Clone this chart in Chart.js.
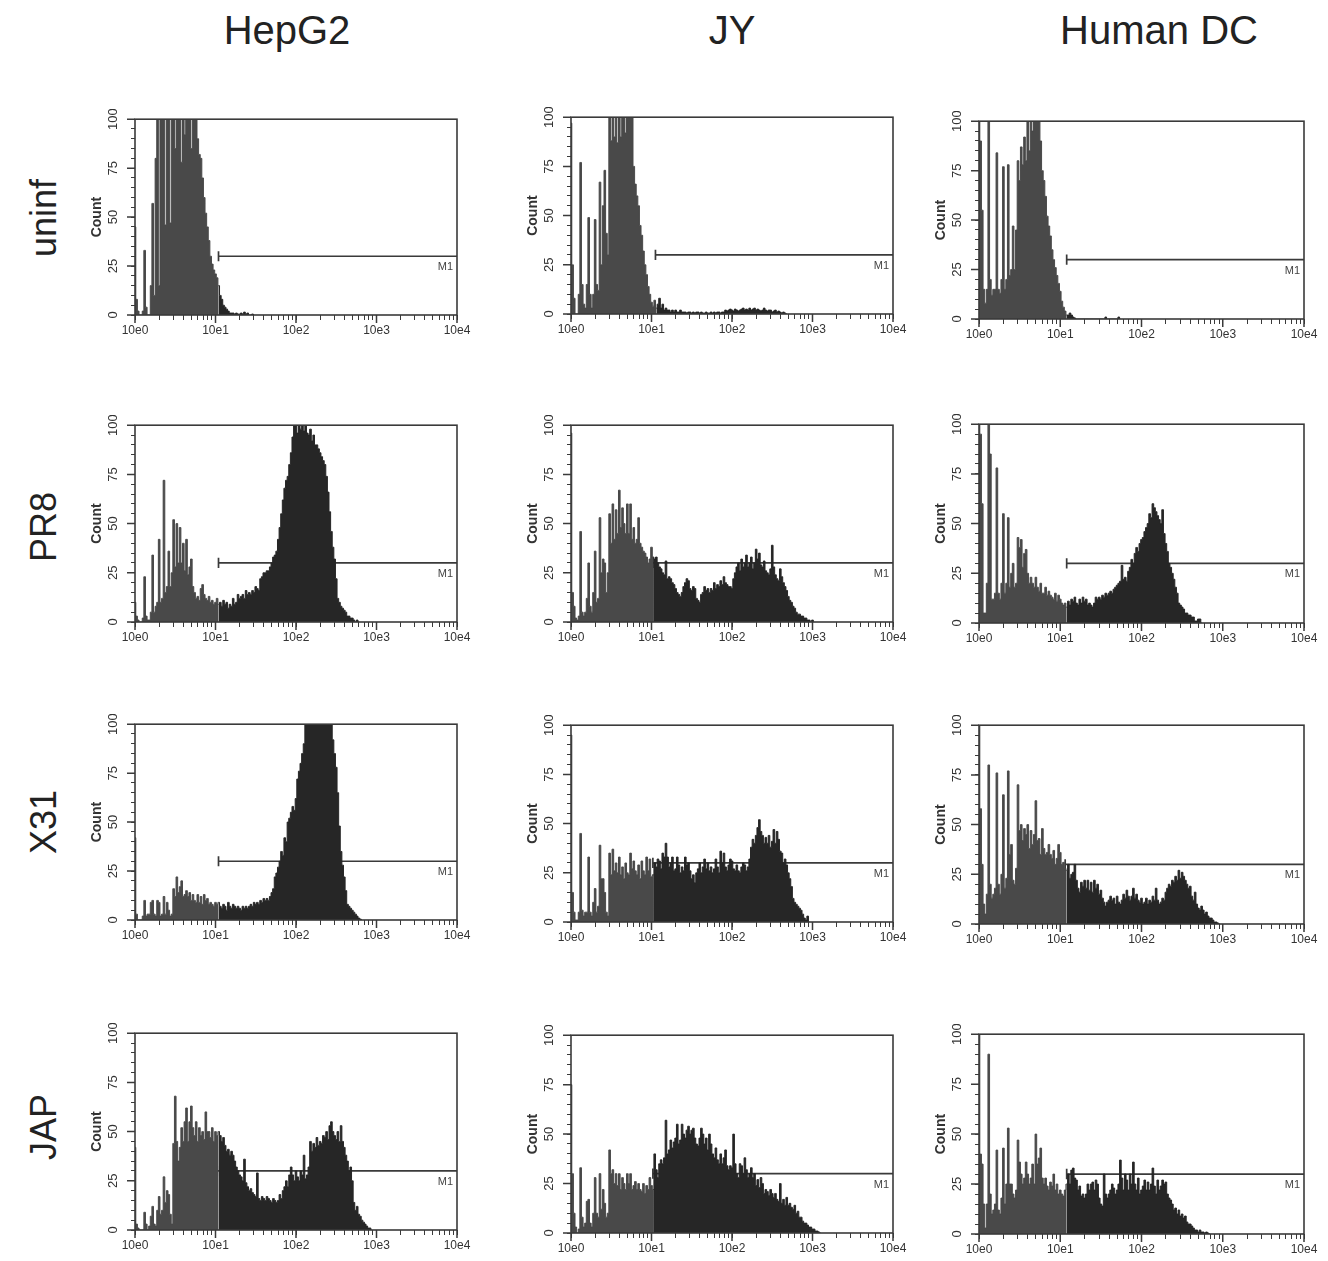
<!DOCTYPE html>
<html>
<head>
<meta charset="utf-8">
<script src="https://cdn.jsdelivr.net/npm/chart.js@4"></script>
<style>
  body { margin: 0; background: #fff; font-family: "Liberation Sans", Arial, sans-serif; }
  #page { position: relative; width: 1328px; height: 1261px; overflow: hidden; }
  .colTitle { position: absolute; top: 8px; font-size: 40px; line-height: 44px; color: #222; white-space: nowrap; transform: translateX(-50%); }
  .rowTitle { position: absolute; font-size: 36px; line-height: 36px; color: #222; white-space: nowrap; transform: translate(-50%, -50%) rotate(-90deg); }
  canvas { position: absolute; }
</style>
</head>
<body>
<div id="page"></div>
<script>
// column / row names
const cellLines = ['HepG2', 'JY', 'Human DC'];
const infections = ['uninf', 'PR8', 'X31', 'JAP'];

// channels: 50 bins per decade, bin i sits at 10^(i/50)
const binsPerDecade = 50;
const xTickValues = [1, 10, 100, 1000, 10000];
const xTickLabels = ['10e0', '10e1', '10e2', '10e3', '10e4'];
const yTickValues = [0, 25, 50, 75, 100];
const markerName = 'M1';
const markerLevel = 30;
// M1 gate start per panel (row x col)
const gateStart = [
  [10.9, 11.2, 12.0],
  [10.9, 10.4, 12.0],
  [10.9, 10.4, 11.5],
  [10.5, 10.4, 12.0]
];

// counts per bin
const hepg2Uninf = [45, 8, 2, 0, 0, 2, 33, 4, 0, 0,
  15, 57, 10, 80, 100, 15, 100, 100, 100, 46,
  100, 100, 47, 100, 100, 85, 100, 100, 100, 78,
  100, 92, 100, 100, 100, 85, 100, 100, 100, 90,
  82, 80, 70, 60, 52, 45, 38, 30, 26, 23,
  21, 19, 15, 10, 8, 5, 4, 3, 2, 1,
  1, 1, 0.5, 1, 0.5, 0.5, 1, 0.5, 1.5, 0.5,
  1, 0, 0, 0.5, 0];
const jyUninf = [97, 25, 8, 0, 0, 10, 77, 15, 5, 3,
  15, 49, 10, 3, 10, 48, 15, 12, 67, 25,
  55, 73, 41, 30, 100, 88, 100, 90, 100, 87,
  100, 90, 100, 100, 92, 100, 100, 100, 100, 75,
  66, 60, 55, 45, 40, 32, 25, 20, 14, 10,
  6, 4, 7, 3, 5, 8, 3, 5, 2, 3,
  2, 2, 1, 2, 1, 2, 1, 1, 2, 1,
  1, 1, 0.5, 1, 1, 0.5, 1, 0.5, 1, 1,
  0.5, 1, 0.5, 0.5, 1, 0.5, 0.5, 1, 0.5, 1,
  0.5, 1, 1, 0.5, 1, 1, 2, 1.5, 2, 2.5,
  2, 1.5, 2.5, 2, 1.5, 2, 2.5, 3, 2, 2.5,
  2, 3, 2, 2.5, 3, 2, 2.5, 2, 1.5, 2,
  3, 2, 1.5, 2, 2, 1, 1.5, 2, 1, 1.5,
  1, 0.5, 1, 0.5, 0];
const dcUninf = [100, 90, 55, 15, 8, 15, 100, 20, 12, 15,
  15, 84, 15, 13, 20, 77, 15, 20, 78, 22,
  25, 47, 25, 45, 80, 70, 87, 78, 92, 80,
  100, 85, 100, 95, 100, 100, 100, 100, 90, 75,
  70, 62, 52, 47, 42, 35, 30, 26, 22, 18,
  14, 9, 6, 4, 2, 2, 3, 2, 1, 0.5,
  0, 0, 0, 0, 0, 0, 0, 0, 0, 0,
  0, 0, 0, 0, 0, 0, 0, 0, 1, 0,
  0, 0, 0, 0, 0, 0, 1, 0];

const hepg2PR8 = [10, 3, 1, 0, 0, 2, 23, 3, 1, 1,
  5, 34, 5, 8, 10, 42, 10, 12, 72, 15,
  18, 36, 18, 25, 52, 28, 50, 30, 48, 30,
  40, 26, 42, 24, 28, 32, 18, 15, 12, 13,
  11, 17, 19, 14, 12, 11, 13, 10, 11, 9,
  10, 12, 9, 10, 8, 11, 9, 10, 7, 9,
  8, 12, 9, 10, 14, 12, 13, 14, 12, 16,
  14, 15, 14, 16, 15, 18, 17, 16, 22, 23,
  25, 25, 26, 26, 28, 30, 33, 34, 36, 42,
  48, 55, 62, 68, 72, 74, 80, 86, 94, 100,
  100, 96, 100, 98, 100, 97, 100, 96, 95, 98,
  92, 95, 90, 90, 88, 86, 84, 82, 80, 74,
  66, 56, 46, 38, 32, 22, 12, 10, 8, 7,
  6, 5, 3, 3, 2, 2, 1, 0, 1, 0];
const jyPR8 = [96, 15, 8, 2, 1, 3, 46, 5, 3, 5,
  12, 30, 8, 5, 15, 36, 10, 12, 53, 25,
  32, 30, 15, 25, 55, 40, 60, 42, 57, 45,
  67, 48, 58, 50, 45, 60, 45, 60, 42, 48,
  40, 42, 53, 40, 38, 36, 35, 33, 30, 32,
  38, 33, 32, 33, 30, 28, 27, 25, 24, 31,
  22, 23, 22, 20, 19, 17, 15, 14, 13, 15,
  18, 20, 22, 21, 17, 16, 18, 17, 12, 11,
  10, 14, 15, 18, 16, 17, 15, 17, 16, 20,
  17, 19, 18, 21, 19, 23, 20, 19, 18, 18,
  17, 22, 25, 28, 30, 26, 32, 28, 30, 34,
  28, 30, 33, 27, 30, 37, 32, 35, 29, 28,
  31, 26, 25, 24, 27, 39, 28, 24, 22, 21,
  27, 23, 20, 18, 16, 13, 11, 10, 8, 7,
  5, 4, 4, 3, 3, 2, 2, 1, 1, 0, 1, 0];
const dcPR8 = [100, 95, 60, 5, 5, 20, 100, 85, 12, 12,
  15, 78, 15, 12, 20, 55, 15, 20, 53, 18,
  25, 30, 18, 20, 43, 38, 42, 28, 35, 37,
  25, 20, 23, 20, 18, 23, 18, 16, 20, 15,
  15, 18, 14, 16, 14, 13, 12, 15, 11, 14,
  12, 10, 9, 10, 8, 11, 9, 12, 11, 13,
  10, 9, 12, 10, 13, 11, 12, 9, 10, 9,
  8, 10, 13, 12, 13, 12, 14, 13, 15, 14,
  15, 16, 15, 17, 18, 19, 20, 21, 29, 22,
  23, 21, 26, 28, 32, 30, 35, 38, 36, 40,
  42, 43, 46, 48, 50, 55, 53, 60, 58, 56,
  54, 52, 50, 57, 45, 40, 36, 30, 28, 25,
  22, 18, 15, 10, 9, 8, 7, 5, 5, 4,
  4, 3, 3, 1, 1, 2, 2, 0];

const hepg2X31 = [42, 3, 0, 0, 0, 2, 10, 2, 3, 3,
  9, 10, 3, 2, 10, 9, 2, 3, 12, 3,
  9, 5, 2, 3, 16, 12, 22, 14, 17, 20,
  12, 13, 15, 12, 14, 10, 13, 10, 9, 13,
  9, 12, 8, 13, 10, 11, 8, 9, 8, 7,
  9, 8, 9, 7, 6, 8, 7, 5, 9, 7,
  6, 8, 7, 6, 7, 6, 5, 7, 6, 7,
  6, 7, 8, 7, 9, 8, 9, 8, 10, 9,
  11, 10, 11, 10, 12, 14, 16, 22, 24, 27,
  30, 35, 33, 42, 40, 50, 52, 55, 58, 56,
  62, 72, 76, 80, 85, 90, 100, 100, 100, 100,
  100, 100, 100, 100, 100, 100, 100, 100, 100, 100,
  100, 100, 100, 92, 85, 78, 65, 48, 35, 28,
  22, 15, 8, 7, 6, 5, 4, 3, 2, 1, 0.5, 0];
const jyX31 = [95, 15, 5, 1, 1, 5, 45, 6, 3, 5,
  5, 33, 5, 3, 10, 17, 5, 8, 39, 22,
  22, 15, 5, 3, 35, 24, 37, 26, 30, 25,
  33, 24, 28, 22, 30, 25, 24, 35, 27, 31,
  26, 24, 29, 22, 31, 26, 24, 33, 26, 32,
  23, 24, 30, 28, 32, 31, 27, 35, 33, 40,
  33, 28, 30, 33, 26, 27, 33, 29, 25, 28,
  26, 33, 29, 30, 26, 22, 24, 20, 25, 27,
  30, 25, 28, 32, 27, 30, 26, 28, 25, 27,
  32, 28, 25, 36, 30, 35, 28, 26, 29, 32,
  31, 27, 26, 29, 26, 25, 28, 30, 29, 26,
  28, 32, 38, 42, 40, 44, 48, 52, 46, 44,
  40, 43, 40, 44, 38, 41, 47, 40, 46, 42,
  36, 35, 30, 32, 29, 25, 22, 18, 12, 10,
  9, 8, 7, 6, 4, 2, 1, 3, 0];
const dcX31 = [100, 58, 30, 10, 5, 15, 80, 20, 13, 15,
  18, 76, 20, 15, 25, 65, 18, 23, 77, 35,
  40, 22, 20, 28, 70, 47, 50, 42, 48, 45,
  50, 38, 47, 40, 45, 62, 42, 43, 35, 48,
  38, 35, 36, 40, 35, 33, 37, 30, 33, 40,
  36, 30, 31, 28, 27, 30, 23, 25, 26, 30,
  22, 18, 16, 21, 19, 22, 18, 22, 17, 21,
  16, 22, 18, 20, 15, 17, 13, 11, 9, 11,
  12, 14, 12, 13, 10, 14, 11, 10, 12, 15,
  13, 17, 14, 12, 14, 18, 13, 15, 12, 11,
  13, 10, 11, 13, 10, 12, 11, 14, 12, 18,
  12, 10, 11, 13, 12, 16, 18, 20, 19, 22,
  21, 24, 22, 27, 23, 26, 24, 22, 20, 18,
  19, 14, 12, 16, 10, 8, 7, 9, 7, 5,
  6, 4, 3, 3, 2, 1, 1, 0.5, 0];

const hepg2JAP = [42, 3, 1, 0, 0, 0, 9, 3, 0, 2,
  7, 12, 3, 2, 10, 17, 8, 10, 27, 14,
  20, 18, 8, 3, 44, 68, 45, 35, 42, 52,
  45, 55, 62, 45, 55, 63, 52, 48, 55, 45,
  52, 48, 50, 46, 60, 50, 50, 47, 52, 45,
  50, 48, 50, 48, 45, 47, 43, 40, 41, 38,
  40, 38, 35, 32, 30, 28, 27, 25, 36, 24,
  22, 20, 21, 19, 18, 17, 29, 16, 15, 17,
  16, 15, 17, 16, 15, 14, 16, 15, 14, 15,
  18, 16, 20, 22, 25, 22, 28, 32, 28, 25,
  30, 27, 25, 30, 28, 38, 26, 28, 32, 45,
  40, 44, 42, 47, 43, 45, 44, 48, 47, 50,
  46, 53, 55, 50, 48, 46, 50, 45, 53, 45,
  42, 38, 35, 30, 32, 25, 14, 10, 12, 8,
  7, 5, 4, 3, 2, 1, 1, 0];
const jyJAP = [75, 30, 10, 3, 0, 2, 33, 8, 3, 5,
  16, 17, 5, 3, 10, 28, 10, 8, 30, 12,
  22, 15, 8, 10, 42, 30, 32, 25, 30, 24,
  30, 22, 28, 25, 22, 30, 25, 30, 22, 24,
  26, 22, 25, 22, 21, 25, 20, 24, 22, 28,
  24, 22, 40, 32, 28, 35, 37, 35, 38, 57,
  40, 42, 47, 43, 46, 48, 55, 45, 47, 55,
  50, 48, 52, 54, 50, 52, 53, 48, 45, 44,
  48, 53, 50, 45, 48, 42, 50, 45, 40, 38,
  43, 37, 35, 40, 35, 38, 42, 34, 32, 34,
  33, 50, 35, 30, 28, 35, 34, 30, 38, 32,
  28, 30, 33, 28, 30, 24, 27, 23, 28, 25,
  20, 22, 21, 19, 22, 20, 18, 20, 17, 16,
  25, 15, 17, 14, 18, 14, 15, 13, 12, 14,
  10, 11, 8, 8, 6, 5, 5, 4, 3, 3,
  2, 2, 1, 1, 0.5, 0];
const dcJAP = [100, 40, 35, 15, 3, 15, 90, 20, 10, 12,
  15, 42, 12, 10, 18, 43, 15, 25, 53, 25,
  25, 20, 18, 22, 47, 36, 30, 25, 28, 36,
  30, 25, 28, 35, 25, 50, 35, 38, 43, 28,
  25, 28, 24, 22, 26, 24, 30, 22, 25, 20,
  22, 20, 19, 22, 25, 30, 25, 32, 33, 28,
  27, 22, 24, 19, 20, 18, 20, 25, 22, 25,
  26, 22, 27, 25, 18, 15, 14, 30, 20, 18,
  20, 22, 25, 23, 20, 22, 25, 37, 28, 22,
  30, 27, 22, 30, 25, 36, 25, 22, 28, 20,
  22, 24, 27, 22, 26, 22, 25, 33, 24, 20,
  27, 22, 24, 27, 25, 26, 20, 18, 17, 15,
  12, 13, 10, 12, 9, 10, 8, 9, 6, 5,
  5, 4, 3, 2, 2, 1, 2, 1, 1, 0.5, 1, 0.5, 0];

const counts = [
  [hepg2Uninf, jyUninf, dcUninf],
  [hepg2PR8, jyPR8, dcPR8],
  [hepg2X31, jyX31, dcX31],
  [hepg2JAP, jyJAP, dcJAP]
];

// layout of the plot boxes on the page
const plotLeft = [135, 571, 979];
const plotRight = [457, 893, 1304];
const plotTop = [[119, 117, 121], [425, 425, 424], [724, 725, 725], [1033, 1035, 1034]];
const plotBottom = [[315, 314, 319], [622, 622, 623], [920, 922, 924], [1230, 1233, 1234]];
const colTitleX = [287, 732, 1159];
const rowTitleY = [218, 527, 822, 1127];
const YW = 46, XH = 30, PT = 10, PR = 18;

const grayFill = '#494949';
const darkFill = '#262626';
const axisColor = '#3a3a3a';
const fontFamily = '"Liberation Sans", Arial, sans-serif';
Chart.defaults.font.family = fontFamily;

const page = document.getElementById('page');

cellLines.forEach((name, c) => {
  const d = document.createElement('div');
  d.className = 'colTitle';
  d.style.left = colTitleX[c] + 'px';
  d.textContent = name;
  page.appendChild(d);
});
infections.forEach((name, r) => {
  const d = document.createElement('div');
  d.className = 'rowTitle';
  d.style.left = '44px';
  d.style.top = rowTitleY[r] + 'px';
  d.textContent = name;
  page.appendChild(d);
});

// minor + major tick positions of the log axis
const xTicks = [];
for (let e = 0; e < 4; e++) {
  for (let s = 1; s < 10; s++) xTicks.push(s * Math.pow(10, e));
}
xTicks.push(10000);

const panelDecor = {
  id: 'panelDecor',
  afterDraw(chart) {
    const ctx = chart.ctx;
    const { left, right, top, bottom } = chart.chartArea;
    const xs = chart.scales.x, ys = chart.scales.y;
    ctx.save();
    ctx.strokeStyle = axisColor;
    ctx.lineWidth = 1.5;
    ctx.beginPath();
    xTickValues.forEach(v => {
      const px = xs.getPixelForValue(v);
      ctx.moveTo(px, bottom);
      ctx.lineTo(px, bottom + 8);
    });
    yTickValues.forEach(v => {
      const py = ys.getPixelForValue(v);
      ctx.moveTo(left - 8, py);
      ctx.lineTo(left, py);
    });
    ctx.stroke();
    ctx.lineWidth = 1.6;
    ctx.strokeRect(left, top, right - left, bottom - top);

    ctx.fillStyle = '#333';
    ctx.font = '13px ' + fontFamily;
    ctx.textAlign = 'center';
    ctx.textBaseline = 'middle';
    yTickValues.forEach(v => {
      ctx.save();
      ctx.translate(left - 22, ys.getPixelForValue(v));
      ctx.rotate(-Math.PI / 2);
      ctx.fillText(String(v), 0, 0);
      ctx.restore();
    });
    ctx.font = '11px ' + fontFamily;
    ctx.textAlign = 'right';
    ctx.fillStyle = '#444';
    ctx.fillText(markerName, right - 4, ys.getPixelForValue(markerLevel) + 11);
    ctx.restore();
  }
};

function makePanel(r, c) {
  const L = plotLeft[c], R = plotRight[c], T = plotTop[r][c], B = plotBottom[r][c];
  const canvas = document.createElement('canvas');
  const w = YW + (R - L) + PR;
  const h = PT + (B - T) + XH;
  canvas.width = w; canvas.height = h;
  canvas.style.left = (L - YW) + 'px';
  canvas.style.top = (T - PT) + 'px';
  canvas.style.width = w + 'px';
  canvas.style.height = h + 'px';
  page.appendChild(canvas);

  const pts = counts[r][c].map((v, i) => ({ x: Math.pow(10, i / binsPerDecade), y: v }));
  const gate = gateStart[r][c];
  let k = pts.findIndex(p => p.x >= gate);
  if (k < 0) k = pts.length - 1;
  const grayPts = pts.slice(0, k + 1);
  const darkPts = pts.slice(k);

  const hist = (data, color) => ({
    data, fill: 'origin', stepped: 'middle', pointRadius: 0,
    backgroundColor: color, borderColor: color, borderWidth: 1
  });

  new Chart(canvas, {
    type: 'line',
    data: {
      datasets: [
        hist(grayPts, grayFill),
        hist(darkPts, darkFill),
        { data: [{ x: gate, y: markerLevel }, { x: 10000, y: markerLevel }],
          borderColor: axisColor, borderWidth: 1.7, pointRadius: 0, fill: false },
        { data: [{ x: gate, y: markerLevel - 2.6 }, { x: gate, y: markerLevel + 2.6 }],
          borderColor: axisColor, borderWidth: 1.7, pointRadius: 0, fill: false }
      ]
    },
    options: {
      responsive: false,
      animation: false,
      devicePixelRatio: 1,
      layout: { padding: { top: PT, right: PR, left: 0, bottom: 0 } },
      plugins: { legend: { display: false }, tooltip: { enabled: false } },
      scales: {
        x: {
          type: 'logarithmic', min: 1, max: 10000,
          afterBuildTicks: s => { s.ticks = xTicks.map(v => ({ value: v, major: xTickValues.includes(v) })); },
          afterFit: s => { s.height = XH; },
          grid: { drawOnChartArea: false, drawTicks: true, tickLength: 5, tickColor: axisColor, tickWidth: 1 },
          border: { display: false },
          ticks: {
            autoSkip: false, maxRotation: 0, minRotation: 0, padding: 3,
            color: '#333', font: { size: 12 },
            callback: v => { const i = xTickValues.indexOf(v); return i >= 0 ? xTickLabels[i] : ''; }
          }
        },
        y: {
          min: 0, max: 100,
          afterFit: s => { s.width = YW; },
          grid: { drawOnChartArea: false, drawTicks: true, tickLength: 4, tickColor: axisColor, tickWidth: 1 },
          border: { display: false },
          ticks: { stepSize: 5, autoSkip: false, callback: () => '' },
          title: { display: true, text: 'Count', color: '#333', padding: 0, font: { size: 14, weight: 'bold' } }
        }
      }
    },
    plugins: [panelDecor]
  });
}

for (let r = 0; r < infections.length; r++) {
  for (let c = 0; c < cellLines.length; c++) makePanel(r, c);
}
</script>
</body>
</html>
